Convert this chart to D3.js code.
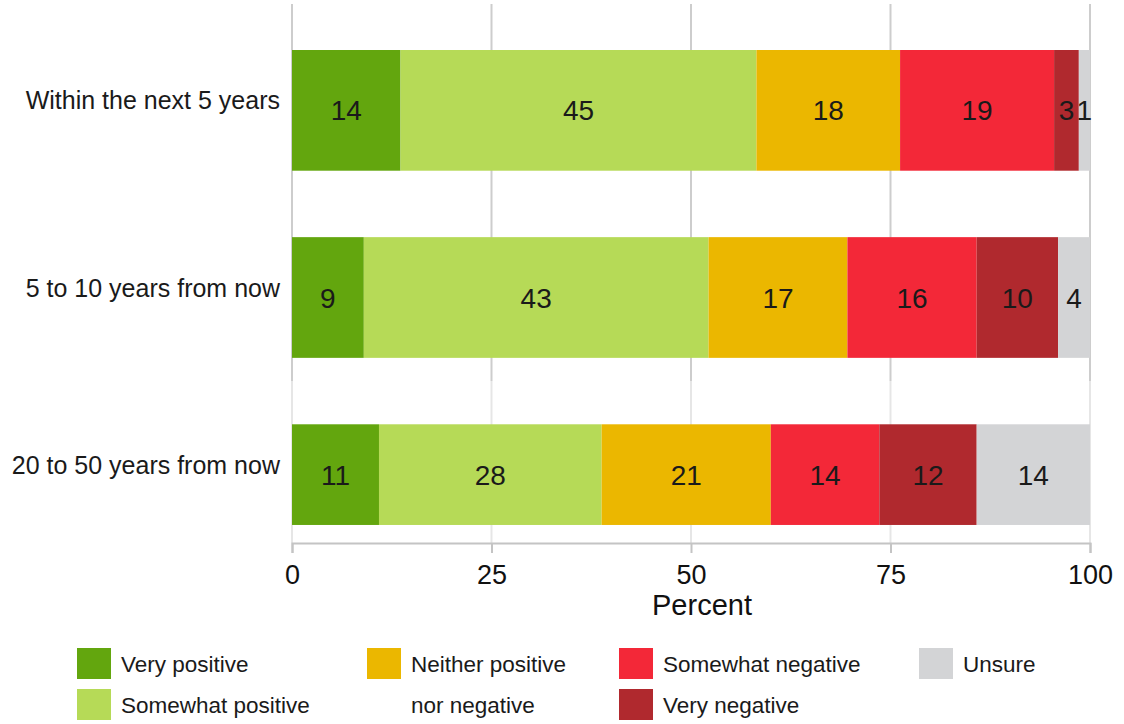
<!DOCTYPE html>
<html>
<head>
<meta charset="utf-8">
<script src="https://cdn.jsdelivr.net/npm/d3@7"></script>
<style>
  html, body { margin: 0; padding: 0; background: #fff; }
  svg { display: block; font-family: "Liberation Sans", Arial, sans-serif; }
</style>
</head>
<body>
<svg id="chart" width="1124" height="724"></svg>
<script>
// Survey rows (timeframes)
const categories = ["Within the next 5 years", "5 to 10 years from now", "20 to 50 years from now"];

// Response options, in stacking order
const seriesNames = ["Very positive", "Somewhat positive", "Neither positive nor negative",
                     "Somewhat negative", "Very negative", "Unsure"];

// Percent of respondents per option, one array per row
const within5 = [13.6, 44.6, 18.0, 19.3, 3.1, 1.4];
const years5to10 = [9.0, 43.2, 17.4, 16.2, 10.2, 4.0];
const years20to50 = [10.9, 27.9, 21.2, 13.6, 12.2, 14.2];

const xTicks = [0, 25, 50, 75, 100];

// Styling
const colors = ["#63a60e", "#b6da57", "#ebb700", "#f32838", "#b0292e", "#d3d4d6"];
const rowThickness = [1, 1, 0.834];

const rows = [within5, years5to10, years20to50];
const svg = d3.select("#chart");

const x = d3.scaleLinear().domain([0, 100]).range([292, 1090]);
const y = d3.scaleBand().domain(categories).range([50, 545]).paddingInner(0.355).paddingOuter(0).align(0);

// Vertical gridlines
const gridTop = 4, gridSplit = 381, axisY = 543;
svg.append("g").selectAll("line").data(xTicks).join("line")
  .attr("x1", d => x(d)).attr("x2", d => x(d))
  .attr("y1", gridTop).attr("y2", gridSplit)
  .attr("stroke", "#cdcdcd").attr("stroke-width", 2);
svg.append("g").selectAll("line").data(xTicks).join("line")
  .attr("x1", d => x(d)).attr("x2", d => x(d))
  .attr("y1", gridSplit).attr("y2", axisY)
  .attr("stroke", "#e6e6e6").attr("stroke-width", 2);

// Stacked segments
const stacked = rows.map((vals, ri) => {
  let acc = 0;
  return vals.map((v, si) => {
    const seg = { row: categories[ri], ri, si, v, x0: acc, x1: acc + v };
    acc += v;
    return seg;
  });
});

const barG = svg.append("g");
stacked.forEach(segs => {
  const g = barG.append("g");
  g.selectAll("rect").data(segs).join("rect")
    .attr("x", d => x(d.x0))
    .attr("width", d => x(d.x1) - x(d.x0))
    .attr("y", d => y(d.row))
    .attr("height", d => y.bandwidth() * rowThickness[d.ri])
    .attr("fill", d => colors[d.si]);
  g.selectAll("text").data(segs).join("text")
    .attr("x", d => x((d.x0 + d.x1) / 2))
    .attr("y", d => y(d.row) + y.bandwidth() * rowThickness[d.ri] / 2)
    .attr("dy", "0.36em")
    .attr("text-anchor", "middle")
    .attr("font-size", 28)
    .attr("fill", "#1a1a1a")
    .text(d => d3.format(".0f")(d.v));
});

// Row labels
svg.append("g").selectAll("text").data(categories).join("text")
  .attr("x", 280)
  .attr("y", (d, i) => y(d) + y.bandwidth() * rowThickness[i] / 2 - 10)
  .attr("dy", "0.36em")
  .attr("text-anchor", "end")
  .attr("font-size", 25)
  .attr("fill", "#1a1a1a")
  .text(d => d);

// X axis
const axis = svg.append("g").attr("transform", `translate(0,${axisY})`)
  .call(d3.axisBottom(x).tickValues(xTicks).tickSize(10).tickPadding(12).tickFormat(d3.format("d")));
axis.select(".domain").attr("stroke", "#c4c4c4").attr("stroke-width", 2);
axis.selectAll(".tick line").attr("stroke", "#c4c4c4").attr("stroke-width", 2);
axis.selectAll(".tick text").attr("font-size", 27).attr("fill", "#111")
  .attr("font-family", "Liberation Sans, Arial, sans-serif");

svg.append("text")
  .attr("x", 702).attr("y", 605).attr("dy", "0.36em")
  .attr("text-anchor", "middle").attr("font-size", 29).attr("fill", "#111")
  .text("Percent");

// Legend
const legendColX = [77, 367, 619, 919];
const legendRowY = [648, 689];
const legendCol = [0, 0, 1, 2, 2, 3];
const legendRow = [0, 1, 0, 0, 1, 0];
const legendLines = [["Very positive"], ["Somewhat positive"], ["Neither positive", "nor negative"],
                     ["Somewhat negative"], ["Very negative"], ["Unsure"]];

const leg = svg.append("g").selectAll("g").data(seriesNames).join("g")
  .attr("transform", (d, i) => `translate(${legendColX[legendCol[i]]},${legendRowY[legendRow[i]]})`);
leg.append("rect").attr("width", 34).attr("height", 31).attr("fill", (d, i) => colors[i]);
leg.each(function (d, i) {
  d3.select(this).selectAll("text").data(legendLines[i]).join("text")
    .attr("x", 44)
    .attr("y", (t, j) => 16 + j * (legendRowY[1] - legendRowY[0]))
    .attr("dy", "0.36em")
    .attr("font-size", 22.5)
    .attr("fill", "#1a1a1a")
    .text(t => t);
});
</script>
</body>
</html>
